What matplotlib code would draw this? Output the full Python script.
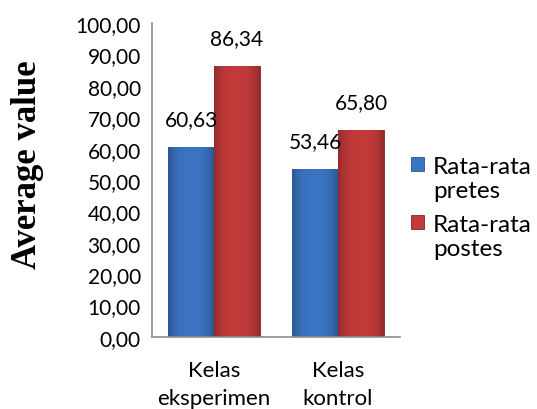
import matplotlib.pyplot as plt
import matplotlib.colors as mcolors
import numpy as np

categories = ['Kelas\neksperimen', 'Kelas\nkontrol']
pretes = [60.63, 53.46]
postes = [86.34, 65.80]
series_names = ['Rata-rata\npretes', 'Rata-rata\npostes']
yticks = [0, 10, 20, 30, 40, 50, 60, 70, 80, 90, 100]

plt.rcParams['font.family'] = ['Lato', 'DejaVu Sans']

fig = plt.figure(figsize=(5.37, 4.10), dpi=100)
ax = fig.add_axes([0.283, 0.176, 0.462, 0.765])

x = np.arange(len(categories))
w = 0.37
blue = '#3b74c2'
red = '#c23a3a'
b1 = ax.bar(x - w/2, pretes, w, color=blue, edgecolor='#2a5590', linewidth=0.6, label=series_names[0])
b2 = ax.bar(x + w/2, postes, w, color=red, edgecolor='#7e2424', linewidth=0.6, label=series_names[1])

# soft shading across each bar (darker at the sides)
shade = 1 - 0.25 * np.abs(np.linspace(-1, 1, 64)) ** 3
for bars, col in ((b1, blue), (b2, red)):
    rgb = np.array(mcolors.to_rgb(col))
    img = (rgb[None, None, :] * shade[None, :, None]).clip(0, 1)
    for b in bars:
        im = ax.imshow(img, extent=(b.get_x(), b.get_x() + b.get_width(), 0, b.get_height()),
                       aspect='auto', zorder=b.get_zorder() + 0.1, interpolation='bilinear')
        im.set_clip_path(b)

def fmt(v):
    return f'{v:.2f}'.replace('.', ',')

for bars, vals in ((b1, pretes), (b2, postes)):
    for b, v in zip(bars, vals):
        ax.annotate(fmt(v), (b.get_x() + b.get_width()/2, v), xytext=(0, 13),
                    textcoords='offset points', ha='center', va='bottom', fontsize=15)

ax.set_xlim(-0.5, 1.5)
ax.set_ylim(0, 100)
ax.set_yticks(yticks)
ax.set_yticklabels([fmt(t) for t in yticks], fontsize=15)
ax.set_xticks(x)
ax.set_xticklabels(categories, fontsize=16, linespacing=1.5)
ax.tick_params(length=0, pad=8)
ax.tick_params(axis='x', pad=17)
for s in ('top', 'right'):
    ax.spines[s].set_visible(False)
for s in ('left', 'bottom'):
    ax.spines[s].set_color('#8c8c8c')
    ax.spines[s].set_linewidth(1.2)

fig.text(0.052, 0.598, 'Average value', rotation=90, ha='center', va='center',
         fontsize=25, fontweight='bold', family='Liberation Serif')

leg = ax.legend(loc='center left', bbox_to_anchor=(1.005, 0.412), frameon=False, fontsize=17.5,
                handlelength=0.55, handleheight=0.55, handletextpad=0.35, labelspacing=0.52,
                borderaxespad=0)
for t in leg.get_texts():
    t.set_linespacing(1.2)
# move the square up to sit beside the first line
for p in leg.get_patches():
    p.set_y(p.get_y() + 0.6 * 17.5)

fig.savefig('out.png', dpi=100)
